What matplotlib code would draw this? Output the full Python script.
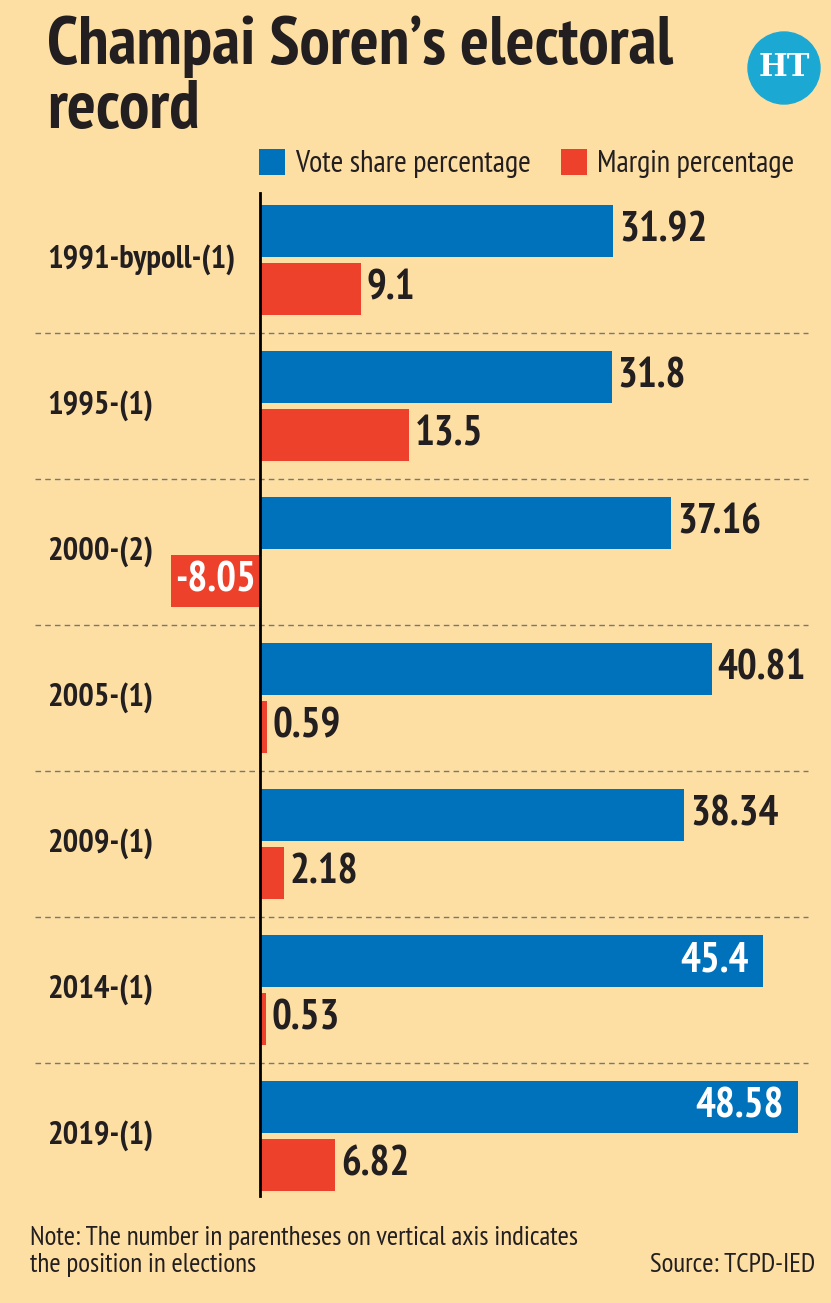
import numpy as np
import matplotlib.pyplot as plt
from matplotlib.patches import Ellipse
from matplotlib.transforms import blended_transform_factory

# data
elections = ["1991-bypoll-(1)", "1995-(1)", "2000-(2)", "2005-(1)",
             "2009-(1)", "2014-(1)", "2019-(1)"]
vote_share = [31.92, 31.8, 37.16, 40.81, 38.34, 45.4, 48.58]
margin = [9.1, 13.5, -8.05, 0.59, 2.18, 0.53, 6.82]
vote_labels = ["31.92", "31.8", "37.16", "40.81", "38.34", "45.4", "48.58"]
margin_labels = ["9.1", "13.5", "-8.05", "0.59", "2.18", "0.53", "6.82"]
series_names = ["Vote share percentage", "Margin percentage"]

bg = "#FDDFA3"
blue = "#0072BC"
red = "#EE412B"
ink = "#231F20"
narrow = ["PT Sans Narrow", "DejaVu Sans"]

W, H = 831, 1303
fig = plt.figure(figsize=(W / 100, H / 100), dpi=100, facecolor=bg)

# plot area: groups from y=187 to y=1209 px, zero line at x=260 px
ax = fig.add_axes([0, (H - 1209) / H, 1, (1209 - 187) / H])
ax.set_facecolor(bg)
px_per_unit = 11.07
ax.set_xlim(-260 / px_per_unit, (W - 260) / px_per_unit)
ax.set_ylim(len(elections) - 0.5, -0.5)
ax.axis("off")

y = np.arange(len(elections))
off = 0.199
h = 0.356
b1 = ax.barh(y - off, vote_share, height=h, color=blue, label=series_names[0])
b2 = ax.barh(y + off, margin, height=h, color=red, label=series_names[1])

# zero axis
ax.axvline(0, ymin=0.0127, ymax=0.994, color="black", lw=2, zorder=5)

# separators
for i in range(len(elections) - 1):
    ax.axhline(i + 0.5, xmin=35 / W, xmax=808 / W, color="#777777",
               lw=1, ls=(0, (4, 3)))

trans = blended_transform_factory(ax.transAxes, ax.transData)
for i, lab in enumerate(elections):
    ax.text(47 / W, i, lab, transform=trans, ha="left", va="center",
            fontsize=23.5, fontweight="bold", family=narrow, color=ink)

lab_kw = dict(fontsize=30, fontweight="bold", family=narrow, va="center")
for i, (v, s) in enumerate(zip(vote_share, vote_labels)):
    if v > 44:
        ax.annotate(s, (v, i - off), xytext=(-10, 0), textcoords="offset points",
                    ha="right", color="white", **lab_kw)
    else:
        ax.annotate(s, (v, i - off), xytext=(4, 0), textcoords="offset points",
                    ha="left", color=ink, **lab_kw)
for i, (v, s) in enumerate(zip(margin, margin_labels)):
    if v < 0:
        ax.annotate(s, (v / 2, i + off), ha="center", color="white", **lab_kw)
    else:
        ax.annotate(s, (v, i + off), xytext=(4, 0), textcoords="offset points",
                    ha="left", color=ink, **lab_kw)

# legend
fig.legend(handles=[b1, b2], loc="upper left",
           bbox_to_anchor=(259 / W, 1 - 149 / H), ncol=2, frameon=False,
           prop={"family": narrow, "size": 22}, handlelength=0.85,
           handleheight=0.92, handletextpad=0.33, columnspacing=0.98,
           borderpad=0, borderaxespad=0, labelcolor=ink)

# title
fig.text(47 / W, 1 - 64 / H, "Champai Soren\u2019s electoral", ha="left",
         va="baseline", fontsize=49, fontweight="bold", family=narrow,
         color=ink)
fig.text(47 / W, 1 - 128 / H, "record", ha="left", va="baseline",
         fontsize=49, fontweight="bold", family=narrow, color=ink)

# HT logo
logo = Ellipse((784 / W, 1 - 68 / H), 72 / W, 72 / H,
               transform=fig.transFigure, color="#1BA9D4")
fig.patches.append(logo)
fig.text(784 / W, 1 - 68 / H, "HT", ha="center", va="center", fontsize=22,
         fontweight="bold", family="DejaVu Serif", color="white")

# notes
fig.text(30 / W, 1 - 1245 / H,
         "Note: The number in parentheses on vertical axis indicates",
         ha="left", va="baseline", fontsize=19.5, family=narrow, color=ink)
fig.text(30 / W, 1 - 1272 / H, "the position in elections",
         ha="left", va="baseline", fontsize=19.5, family=narrow, color=ink)
fig.text(815 / W, 1 - 1272 / H, "Source: TCPD-IED",
         ha="right", va="baseline", fontsize=19.5, family=narrow, color=ink)

fig.savefig("out.png", dpi=100, facecolor=bg)
